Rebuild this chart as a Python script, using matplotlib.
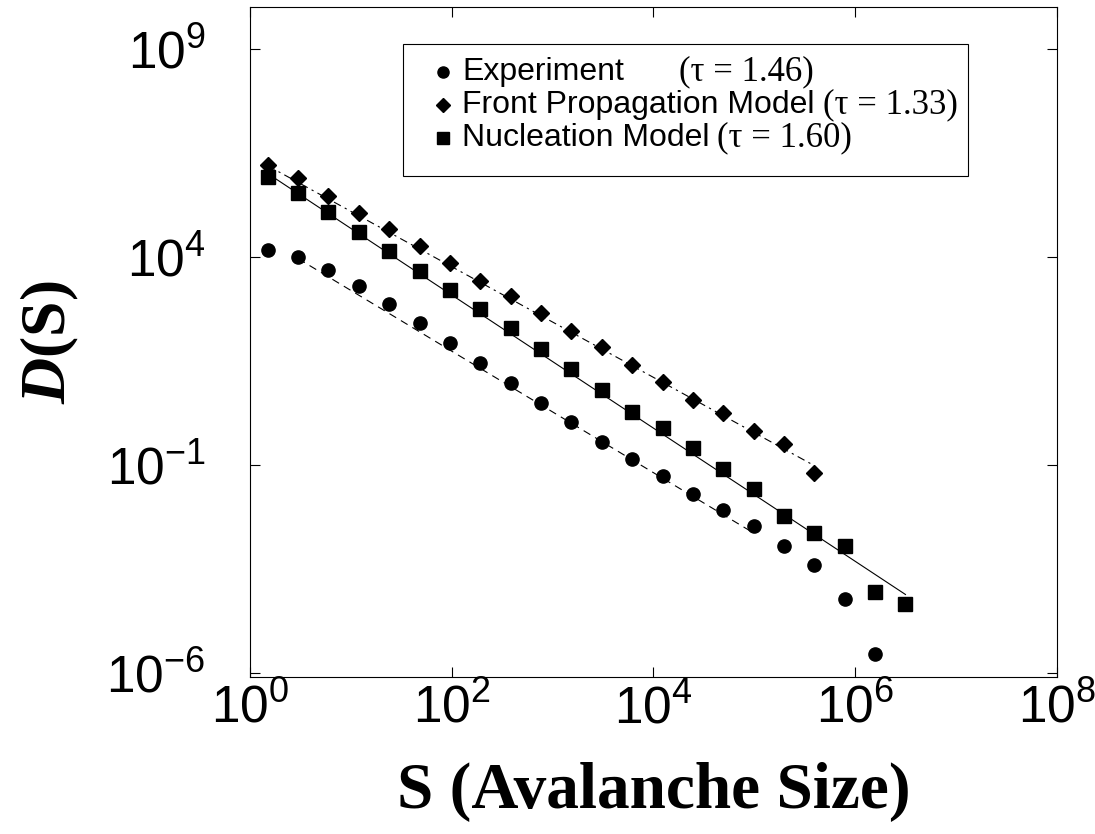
import numpy as np
import matplotlib
matplotlib.use("Agg")
import matplotlib.pyplot as plt
from matplotlib.patches import Rectangle
from matplotlib.ticker import FixedLocator, FuncFormatter, NullLocator

# ── fonts ────────────────────────────────────────────────────────────────────
plt.rcParams["font.family"] = ["Liberation Sans", "DejaVu Sans"]
plt.rcParams["mathtext.fontset"] = "custom"
plt.rcParams["mathtext.rm"] = "Liberation Serif"
plt.rcParams["mathtext.it"] = "Liberation Serif:italic"
plt.rcParams["mathtext.bf"] = "Liberation Serif:bold"
plt.rcParams["mathtext.bfit"] = "Liberation Serif:bold:italic"
plt.rcParams["mathtext.sf"] = "Liberation Sans"

# ── data (log bins of avalanche size) ────────────────────────────────────────
sizes = [1.5, 3, 6, 12, 24, 48, 96, 192, 384, 768, 1536, 3072, 6144, 12288,
         24576, 49152, 98304, 196608, 393216, 786432, 1572864, 3145728]

# log10 D(S)
log_exp = [4.17, 4.00, 3.69, 3.30, 2.87, 2.41, 1.93, 1.45, 0.97, 0.49, 0.03,
           -0.45, -0.86, -1.26, -1.70, -2.08, -2.47, -2.95, -3.40, -4.22, -5.54]
log_front = [6.21, 5.88, 5.47, 5.06, 4.67, 4.26, 3.86, 3.42, 3.06, 2.65, 2.22,
             1.84, 1.40, 1.00, 0.56, 0.25, -0.18, -0.50, -1.19]
log_nucl = [5.92, 5.54, 5.08, 4.60, 4.14, 3.66, 3.21, 2.75, 2.29, 1.79, 1.31,
            0.80, 0.27, -0.11, -0.59, -1.10, -1.58, -2.23, -2.63, -2.95, -4.05, -4.34]

# power-law fits  D = 10**a * S**(-tau), drawn over [s_min, s_max]
tau_exp, a_exp, fit_exp = 1.46, 4.65, (3, 98304)
tau_front, a_front, fit_front = 1.33, 6.42, (1.5, 393216)
tau_nucl, a_nucl, fit_nucl = 1.60, 6.28, (1.5, 3145728)

series_names = ["Experiment", "Front Propagation Model", "Nucleation Model"]
series_taus = [tau_exp, tau_front, tau_nucl]
series_markers = ["o", "D", "s"]

x_ticks = [1e0, 1e2, 1e4, 1e6, 1e8]
y_ticks = [1e-6, 1e-1, 1e4, 1e9]

# ── figure ───────────────────────────────────────────────────────────────────
fig = plt.figure(figsize=(10.95, 8.34), dpi=100)
ax = fig.add_axes([0.2283, 0.1882, 0.737, 0.8034])

def fit_line(tau, a, rng):
    s = np.array(rng, dtype=float)
    return s, 10 ** a * s ** (-tau)

s, d = fit_line(tau_exp, a_exp, fit_exp)
ax.plot(s, d, color="black", lw=0.8, ls=(0, (7, 5)))
s, d = fit_line(tau_front, a_front, fit_front)
ax.plot(s, d, color="black", lw=0.8, ls=(0, (7, 4, 2, 4)))
s, d = fit_line(tau_nucl, a_nucl, fit_nucl)
ax.plot(s, d, color="black", lw=0.8, ls="-")

ax.plot(sizes[:len(log_exp)], 10 ** np.array(log_exp), "o", color="black", ms=9.5)
ax.plot(sizes[:len(log_front)], 10 ** np.array(log_front), "D", color="black", ms=8)
ax.plot(sizes[:len(log_nucl)], 10 ** np.array(log_nucl), "s", color="black", ms=9.5)

ax.set_xscale("log")
ax.set_yscale("log")
ax.set_xlim(1e0, 1e8)
ax.set_ylim(10 ** -6.1, 1e10)

ax.xaxis.set_major_locator(FixedLocator(x_ticks))
ax.yaxis.set_major_locator(FixedLocator(y_ticks))
ax.xaxis.set_minor_locator(NullLocator())
ax.yaxis.set_minor_locator(NullLocator())
fmt = FuncFormatter(lambda v, p: r"$\mathsf{10^{%d}}$" % round(np.log10(v)))
ax.xaxis.set_major_formatter(fmt)
ax.yaxis.set_major_formatter(fmt)
ax.tick_params(direction="in", length=7, width=0.8, top=True, right=True,
               labelsize=37)
ax.tick_params(axis="x", pad=5)
ax.tick_params(axis="y", pad=32)
for sp in ax.spines.values():
    sp.set_linewidth(0.8)

ax.set_xlabel("S (Avalanche Size)", family="Liberation Serif",
              fontweight="bold", fontsize=47, labelpad=20)
ax.set_ylabel(r"$\mathbfit{D}\mathbf{(S)}$", fontsize=46, labelpad=18)

# ── legend box (sans names, serif exponents) ────────────────────────────────
ax.add_patch(Rectangle((0.1896, 0.7478), 0.70, 0.197, transform=ax.transAxes,
                       facecolor="white", edgecolor="black", lw=0.8, zorder=5))
row_y = [0.903, 0.8537, 0.8045]
marker_ms = [8, 7, 8]
name_texts = []
for yy, name, mk, ms in zip(row_y, series_names, series_markers, marker_ms):
    ax.plot([0.2392], [yy], mk, color="black", ms=ms, transform=ax.transAxes,
            zorder=6, clip_on=False)
    name_texts.append(ax.text(0.2627, yy, name, transform=ax.transAxes,
                              fontsize=23, va="center", ha="left", zorder=6))

fig.canvas.draw()
renderer = fig.canvas.get_renderer()
gaps_px = [55, 9, 8]
for t, tau, gap in zip(name_texts, series_taus, gaps_px):
    bb = t.get_window_extent(renderer)
    xa, ya = ax.transAxes.inverted().transform((bb.x1 + gap, 0))
    ax.text(xa, t.get_position()[1], "(τ = %.2f)" % tau, transform=ax.transAxes,
            family="Liberation Serif", fontsize=25, va="center", ha="left",
            zorder=6)

fig.savefig("out.png", dpi=100, facecolor="white")
